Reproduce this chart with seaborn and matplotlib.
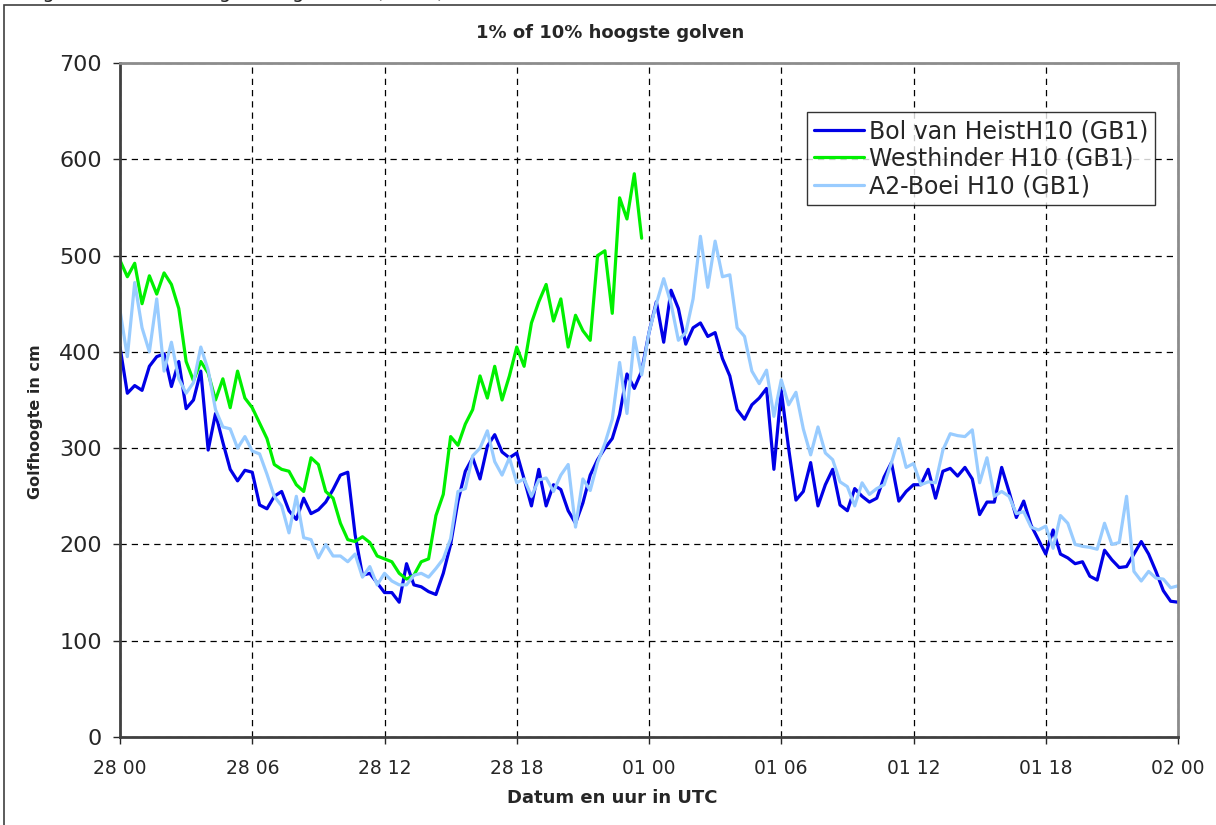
"""
Golfhoogte chart: Bol van Heist, Westhinder and A2-Boei (H10, GB1).
"""

import numpy as np
import pandas as pd
import matplotlib.pyplot as plt
import matplotlib.dates as mdates
from matplotlib.patches import Rectangle
import seaborn as sns

# ---- data: 20-minute values in cm, starting 28 00 ----
START = "2010-02-28 00:00"

bol_van_heist = [
    405, 357, 365, 360, 385, 395, 398, 364, 390, 341, 350, 380,
    298, 336, 306, 278, 266, 277, 275, 241, 237, 250, 255, 235,
    226, 248, 232, 236, 244, 257, 272, 275, 210, 168, 170, 160,
    150, 150, 140, 180, 158, 156, 151, 148, 170, 200, 245, 276,
    290, 268, 302, 314, 296, 290, 295, 268, 240, 278, 240, 262,
    257, 235, 222, 243, 272, 288, 300, 310, 335, 377, 362, 380,
    420, 452, 410, 464, 445, 408, 425, 430, 416, 420, 393, 375,
    340, 330, 345, 352, 362, 278, 360, 300, 246, 255, 285, 240,
    262, 278, 241, 235, 258, 250, 244, 248, 270, 285, 245, 255,
    262, 262, 278, 248, 276, 279, 271, 280, 268, 231, 244, 244,
    280, 255, 228, 245, 220, 205, 190, 215, 190, 186, 180, 182,
    167, 163, 194, 184, 176, 177, 190, 203, 190, 172, 152, 141,
    140,
]

westhinder = [
    495, 478, 492, 450, 479, 460, 482, 470, 445, 390, 370, 390,
    378, 350, 372, 342, 380, 352, 342, 326, 310, 283, 278, 276,
    262, 255, 290, 283, 255, 248, 222, 205, 203, 208, 202, 188,
    185, 182, 170, 164, 168, 182, 185, 230, 252, 312, 303, 325,
    340, 375, 352, 385, 350, 375, 405, 385, 430, 452, 470, 432,
    455, 405, 438, 422, 412, 500, 505, 440, 560, 538, 585, 518,
]

a2_boei = [
    443, 395, 472, 425, 400, 455, 380, 410, 372, 357, 368, 405,
    381, 340, 322, 320, 300, 312, 297, 294, 273, 250, 240, 212,
    250, 207, 205, 186, 200, 188, 188, 182, 190, 166, 177, 158,
    170, 162, 158, 158, 168, 170, 166, 175, 185, 206, 255, 258,
    292, 300, 318, 286, 272, 290, 264, 268, 250, 267, 269, 255,
    272, 283, 218, 268, 256, 285, 305, 330, 389, 336, 415, 376,
    420, 450, 476, 450, 412, 420, 455, 520, 467, 515, 478, 480,
    425, 416, 380, 367, 381, 333, 371, 345, 358, 320, 293, 322,
    295, 288, 265, 260, 240, 264, 252, 258, 262, 285, 310, 280,
    284, 262, 265, 264, 298, 315, 313, 312, 319, 264, 290, 250,
    255, 250, 232, 234, 218, 215, 219, 196, 230, 222, 200, 198,
    197, 195, 222, 200, 202, 250, 172, 162, 172, 165, 164, 155,
    157,
]

series_names = ["Bol van HeistH10 (GB1)", "Westhinder H10 (GB1)", "A2-Boei H10 (GB1)"]
series_values = [bol_van_heist, westhinder, a2_boei]
series_colors = ["#0000E6", "#00F000", "#99CCFF"]

y_ticks = [0, 100, 200, 300, 400, 500, 600, 700]

frames = []
for name, vals in zip(series_names, series_values):
    t = pd.date_range(START, periods=len(vals), freq="20min")
    frames.append(pd.DataFrame({"tijd": t, "golfhoogte": vals, "station": name}))
df = pd.concat(frames, ignore_index=True)

# ---- figure ----
sns.set_style("white")
plt.rcParams["font.family"] = ["DejaVu Sans"]

W, H = 1216, 825
fig = plt.figure(figsize=(W / 100, H / 100), dpi=100)
ax = fig.add_axes([120 / W, 1 - 737 / H, 1058 / W, 674 / H])

# outer chart frame (runs past the right/bottom edge like the screenshot)
fig.patches.append(Rectangle((4 / W, -0.05), 1.2, 1.05 - 5 / H,
                             transform=fig.transFigure, fill=False,
                             edgecolor="#404040", linewidth=1.2))
# caption of the figure, cut off at the top edge as in the screenshot
fig.text(27 / W, 1 + 2.5 / H, "Figuur 3: Maximale golfhoogte H10 (in cm)",
         fontsize=14, ha="left", va="baseline")

sns.lineplot(data=df, x="tijd", y="golfhoogte", hue="station",
             hue_order=series_names, palette=dict(zip(series_names, series_colors)),
             linewidth=2.3, ax=ax, legend=False)

t0 = pd.Timestamp(START)
ax.set_xlim(t0, t0 + pd.Timedelta(hours=48))
ax.set_ylim(0, 700)
ax.set_yticks(y_ticks)
ax.xaxis.set_major_locator(mdates.HourLocator(byhour=[0, 6, 12, 18]))
ax.xaxis.set_major_formatter(mdates.DateFormatter("%d %H"))

ax.grid(True, color="black", linestyle=(0, (5, 4)), linewidth=0.9)
ax.set_axisbelow(True)

for side in ["left", "bottom"]:
    ax.spines[side].set_color("#404040")
    ax.spines[side].set_linewidth(2)
for side in ["top", "right"]:
    ax.spines[side].set_color("#8c8c8c")
    ax.spines[side].set_linewidth(2)

ax.tick_params(axis="y", which="major", length=5, width=1, direction="out",
               left=True, labelsize=16, pad=8)
ax.tick_params(axis="x", which="major", length=5, width=1, direction="out",
               bottom=True, labelsize=13.5, pad=11)

ax.set_xlabel("Datum en uur in UTC", fontsize=13, fontweight="bold")
ax.xaxis.set_label_coords((612 - 120) / 1058, (737 - 789) / 674)
ax.set_ylabel("Golfhoogte in cm", fontsize=11.5, fontweight="bold")
ax.yaxis.set_label_coords((43 - 120) / 1058, (737 - 422) / 674)

fig.text(610 / W, 1 - 33 / H, "1% of 10% hoogste golven", fontsize=13,
         fontweight="bold", ha="center", va="center")

handles = [plt.Line2D([], [], color=c, linewidth=2.3) for c in series_colors]
leg = ax.legend(handles, series_names, loc="upper right",
                bbox_to_anchor=((1155 - 120) / 1058, (737 - 112) / 674),
                borderaxespad=0, fontsize=17, handlelength=2.1,
                handletextpad=0.2, labelspacing=0.15, borderpad=0.3,
                fancybox=False, frameon=True, edgecolor="black")
leg.get_frame().set_linewidth(1)

fig.savefig("out.png", dpi=100)
